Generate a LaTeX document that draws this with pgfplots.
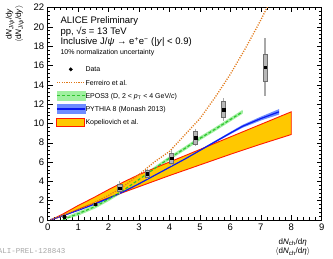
\documentclass[border=0pt]{standalone}
\usepackage{pgfplots}
\pgfplotsset{compat=1.18}
\usepackage{pgfplotstable}
\usepackage{fontspec}
\setmainfont{Liberation Sans}
\newfontfamily\monofont{Liberation Mono}
\definecolor{kopfill}{HTML}{FFC800}
\definecolor{kopline}{HTML}{FF1A00}
\definecolor{pyline}{HTML}{0A1AF0}
\definecolor{pyband}{HTML}{6E8CFF}
\definecolor{epline}{HTML}{2EC42E}
\definecolor{epband}{HTML}{A0F0A0}
\definecolor{ferr}{HTML}{E07818}
\definecolor{sysfill}{HTML}{B8B8B8}
\definecolor{sysline}{HTML}{6E6E6E}
\definecolor{statline}{HTML}{A8A8A8}
\pgfplotstableread{
x y stat sys
0.54 0.33 0.10 0.06
1.56 1.64 0.22 0.14
2.37 3.30 0.75 0.35
3.27 4.78 0.50 0.32
4.07 6.40 0.85 0.55
4.86 8.52 0.85 0.65
5.78 11.45 1.15 0.80
7.14 15.80 3.00 1.40
}\datatab
\begin{document}
\begin{tikzpicture}
\path[use as bounding box] (-47.7pt,-39pt) rectangle (285.3pt,220pt);
\begin{axis}[
 at={(0pt,0pt)}, anchor=south west,
 scale only axis, width=274pt, height=212.5pt,
 xmin=0, xmax=9, ymin=0, ymax=22,
 xtick={0,1,...,9}, ytick={0,2,...,22},
 minor x tick num=4, minor y tick num=4,
 tick align=inside, major tick length=5pt, minor tick length=2.5pt,
 tick style={black, line width=0.4pt},
 axis line style={black, line width=0.5pt},
 ticklabel style={font=\fontsize{9.5}{10}\selectfont},
 /pgf/number format/assume math mode=true,
 legend style={draw=none, fill=none, font=\fontsize{7}{8}\selectfont,
   at={(axis description cs:0.03,0.731)}, anchor=north west,
   row sep=4.2pt, inner sep=0pt, cells={anchor=west},
   nodes={inner sep=0pt, text height=7pt, text depth=2pt},
   /tikz/every even column/.append style={column sep=4.5pt}},
 legend cell align=left,
]
% legend images
\addlegendimage{legend image code/.code={\fill[black] (14pt,0pt) circle (1.7pt);}}
\addlegendentry{Data}
\addlegendimage{legend image code/.code={\draw[ferr, line width=1.2pt, dash pattern=on 1.1pt off 1.3pt] (0pt,0pt) -- (28pt,0pt);}}
\addlegendentry{Ferreiro et al.}
\addlegendimage{legend image code/.code={\fill[epband] (0pt,-4.3pt) rectangle (28pt,4.3pt); \draw[epline, line width=1.2pt, dash pattern=on 3pt off 2pt] (0pt,0pt) -- (28pt,0pt);}}
\addlegendentry{EPOS3 (D, 2 < \textit{p}\textsubscript{T} < 4 GeV/\textit{c})}
\addlegendimage{legend image code/.code={\fill[pyband] (0pt,-4.3pt) rectangle (28pt,4.3pt); \draw[pyline, line width=1.4pt] (0pt,0pt) -- (28pt,0pt);}}
\addlegendentry{PYTHIA 8 (Monash 2013)}
\addlegendimage{legend image code/.code={\draw[kopline, fill=kopfill, line width=0.9pt] (0pt,-4.3pt) rectangle (28pt,4.3pt);}}
\addlegendentry{Kopeliovich et al.}

% EPOS3 band
\addplot[forget plot, fill=epband, draw=none] coordinates {
(0.5,0.22) (1,0.85) (1.55,1.58) (2,2.35) (2.5,3.3) (3,4.4) (3.5,5.5) (4,6.6) (4.5,7.6) (5,8.65) (5.5,9.6) (6,10.6) (6.4,11.4)
(6.4,11.0) (6,10.2) (5.5,9.2) (5,8.25) (4.5,7.2) (4,6.2) (3.5,5.1) (3,4.0) (2.5,2.9) (2,1.95) (1.55,1.18) (1,0.45) (0.5,0.0)
} -- cycle;
% PYTHIA band
\addplot[forget plot, fill=pyband, draw=none] coordinates {
(0.08,0.02) (0.5,0.48) (1,1.04) (1.5,1.65) (2,2.3) (2.5,3.01) (3,3.82) (3.5,4.67) (4,5.53) (4.5,6.39) (5,7.29) (5.5,8.2) (6,9.12) (6.4,9.85) (7,10.7) (7.6,11.48)
(7.6,10.92) (7,10.3) (6.4,9.55) (6,8.88) (5.5,8.0) (5,7.11) (4.5,6.21) (4,5.37) (3.5,4.53) (3,3.68) (2.5,2.89) (2,2.2) (1.5,1.55) (1,0.96) (0.5,0.42) (0.08,0.0)
} -- cycle;
% Kopeliovich band
\addplot[forget plot, fill=kopfill, draw=kopline, line width=0.9pt] coordinates {
(0.1,0.0) (0.5,0.62) (1,1.5) (1.5,2.3) (2,3.15) (2.5,3.95) (3,4.7) (4,6.0) (5,7.3) (6,8.6) (7,9.9) (8,11.2)
(8,8.85) (7,7.85) (6,6.8) (5,5.7) (4,4.6) (3,3.45) (2,2.3) (1,1.1) (0.5,0.42)
} -- cycle;
% PYTHIA line
\addplot[forget plot, pyline, line width=1.2pt] coordinates {
(0.08,0) (0.5,0.45) (1,1.0) (1.5,1.6) (2,2.25) (2.5,2.95) (3,3.75) (3.5,4.6) (4,5.45) (4.5,6.3) (5,7.2) (5.5,8.1) (6,9.0) (6.4,9.7) (7,10.5) (7.6,11.2)
};
% EPOS3 line
\addplot[forget plot, epline, line width=1.2pt, dash pattern=on 3pt off 2pt] coordinates {
(0.5,0.02) (1,0.65) (1.55,1.38) (2,2.15) (2.5,3.1) (3,4.2) (3.5,5.3) (4,6.4) (4.5,7.4) (5,8.45) (5.5,9.4) (6,10.4) (6.4,11.2)
};
% Ferreiro
\addplot[forget plot, ferr, line width=1.3pt, dash pattern=on 1.1pt off 1.4pt] coordinates {
(0.1,0.05) (0.5,0.5) (1,1.1) (1.5,1.75) (2,2.55) (2.5,3.5) (3,4.7) (3.5,6.0) (4,7.1) (4.5,8.8) (5,10.5) (5.5,12.7) (6,15.1) (6.5,17.8) (7,20.7) (7.3,22.6)
};
% stat errors
\addplot[forget plot, draw=none, mark=none, error bars/.cd, y dir=both, y explicit, error mark=none,
  error bar style={statline, line width=1.2pt}] table[x=x, y=y, y error=stat] {\datatab};
% systematic boxes
\addplot[forget plot, fill=sysfill, draw=sysline, line width=0.6pt] coordinates {(0.47,0.27) (0.61,0.27) (0.61,0.39) (0.47,0.39)} -- cycle;
\addplot[forget plot, fill=sysfill, draw=sysline, line width=0.6pt] coordinates {(1.49,1.50) (1.63,1.50) (1.63,1.78) (1.49,1.78)} -- cycle;
\addplot[forget plot, fill=sysfill, draw=sysline, line width=0.6pt] coordinates {(2.30,2.95) (2.44,2.95) (2.44,3.65) (2.30,3.65)} -- cycle;
\addplot[forget plot, fill=sysfill, draw=sysline, line width=0.6pt] coordinates {(3.20,4.46) (3.34,4.46) (3.34,5.10) (3.20,5.10)} -- cycle;
\addplot[forget plot, fill=sysfill, draw=sysline, line width=0.6pt] coordinates {(4.00,5.85) (4.14,5.85) (4.14,6.95) (4.00,6.95)} -- cycle;
\addplot[forget plot, fill=sysfill, draw=sysline, line width=0.6pt] coordinates {(4.79,7.87) (4.93,7.87) (4.93,9.17) (4.79,9.17)} -- cycle;
\addplot[forget plot, fill=sysfill, draw=sysline, line width=0.6pt] coordinates {(5.71,10.65) (5.85,10.65) (5.85,12.25) (5.71,12.25)} -- cycle;
\addplot[forget plot, fill=sysfill, draw=sysline, line width=0.6pt] coordinates {(7.07,14.40) (7.21,14.40) (7.21,17.20) (7.07,17.20)} -- cycle;
% data points
\addplot[forget plot, only marks, mark=square*, mark size=1.3pt, black] table[x=x, y=y] {\datatab};

% header text
\node[anchor=base west, font=\fontsize{9.5}{11}\selectfont] at (axis description cs:0.034,0.927) {ALICE Preliminary};
\node[anchor=base west, font=\fontsize{9.5}{11}\selectfont] at (axis description cs:0.034,0.873) {pp, √\textit{s} = 13 TeV};
\node[anchor=base west, font=\fontsize{9.5}{11}\selectfont] at (axis description cs:0.034,0.824) {Inclusive J/\textit{ψ} → e\textsuperscript{+}e\textsuperscript{−} (|\textit{y}| < 0.9)};
\node[anchor=base west, font=\fontsize{7}{8}\selectfont] at (axis description cs:0.034,0.779) {10\% normalization uncertainty};
\end{axis}
% axis labels
\node[rotate=90, anchor=east, align=center, font=\fontsize{8}{9.5}\selectfont] at (-32.7pt,218pt)
 {d\textit{N}\textsubscript{\textit{J/ψ}}/d\textit{y}\\ $\langle$d\textit{N}\textsubscript{\textit{J/ψ}}/d\textit{y}$\rangle$};
\node[anchor=north east, align=center, font=\fontsize{8}{9.5}\selectfont] at (266pt,-15pt)
 {d\textit{N}\textsubscript{ch}/d\textit{η}\\ $\langle$d\textit{N}\textsubscript{ch}/d\textit{η}$\rangle$};
\node[anchor=base west, text=gray!70, font=\monofont\fontsize{7.5}{8}\selectfont, inner sep=0pt] at (-50pt,-34pt) {ALI-PREL-128843};
\end{tikzpicture}
\end{document}
